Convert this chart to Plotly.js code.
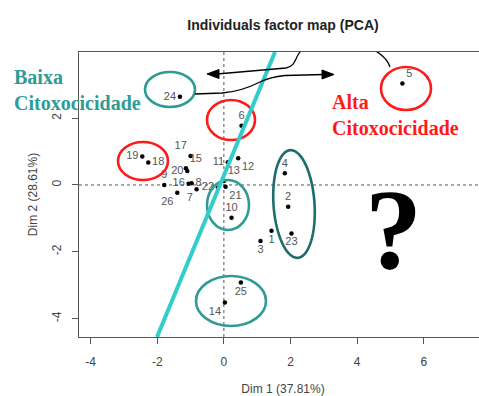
<!DOCTYPE html>
<html><head><meta charset="utf-8">
<script src="https://cdn.plot.ly/plotly-3.0.1.min.js"></script>
<style>html,body{margin:0;padding:0;overflow:hidden;background:#fff}</style>
</head><body><div id="chart" style="width:487px;height:396px"></div>
<script>
// ---- data (individuals, PCA coordinates) ----
const individuals = ['1','2','3','4','5','6','7','8','9','10','11','12','13','14','15','16','17','18','19','20','21','22','23','24','25','26'];
const dim1 = [1.43, 1.93, 1.10, 1.83, 5.36, 0.53, -0.82, -0.97, -1.79, 0.23, 0.12, 0.43, 0.00, 0.03, -1.14, -1.06, -1.00, -2.27, -2.45, -1.10, 0.05, -0.18, 2.03, -1.32, 0.51, -1.40];
const dim2 = [-1.37, -0.65, -1.68, 0.35, 3.04, 1.77, -0.13, 0.05, 0.00, -0.98, 0.68, 0.80, 0.12, -3.52, 0.50, 0.04, 0.87, 0.67, 0.85, 0.42, -0.05, -0.08, -1.45, 2.64, -2.92, -0.23];
const xTicks = [-4, -2, 0, 2, 4, 6];
const yTicks = [-4, -2, 0, 2];
const xTitle = 'Dim 1 (37.81%)';
const yTitle = 'Dim 2 (28.61%)';
const chartTitle = 'Individuals factor map (PCA)';

// ---- styles ----
const labelPos = ['bottom center','top center','bottom center','top center','top right','top center','bottom left','middle right','top center','top center','middle left','bottom right','top right','bottom left','top right','middle left','top left','middle right','middle left','middle left','bottom right','middle left','bottom center','middle left','bottom center','bottom left'];

const XR = [-4.35, 7.9], YR = [-4.55, 3.98];
const L = 79, T = 52, W = 408, H = 285;
const X = px => XR[0] + (px - L) / W * (XR[1] - XR[0]);
const Y = py => YR[1] - (py - T) / H * (YR[1] - YR[0]);
const PX = px => (px - L) / W;
const PY = py => (T + H - py) / H;
const pt = (a, b) => X(a).toFixed(3) + ',' + Y(b).toFixed(3);

const teal = '#2E9C95', darkTeal = '#1B6E6C', red = '#FF1A1A', cyan = '#33CCCC';

function ell(cx, cy, rx, ry, color) {
  return {type:'circle', xref:'x', yref:'y', x0:X(cx-rx), x1:X(cx+rx), y0:Y(cy+ry), y1:Y(cy-ry),
          line:{color:color, width:2.6}, layer:'above'};
}
function tiltedEll(cx, cy, rx, ry, ang, color) {
  const a = ang * Math.PI / 180; let d = '';
  for (let i = 0; i <= 72; i++) {
    const t = i / 72 * 2 * Math.PI;
    const px = cx + rx * Math.cos(t) * Math.cos(a) - ry * Math.sin(t) * Math.sin(a);
    const py = cy + rx * Math.cos(t) * Math.sin(a) + ry * Math.sin(t) * Math.cos(a);
    d += (i === 0 ? 'M' : 'L') + pt(px, py) + ' ';
  }
  return {type:'path', xref:'x', yref:'y', path:d + 'Z', line:{color:color, width:2.6}, layer:'above'};
}

const shapes = [
  {type:'line', xref:'x', yref:'paper', x0:0, x1:0, y0:0, y1:1, line:{color:'#555', width:1, dash:'3px,3px'}, layer:'below'},
  {type:'line', xref:'paper', yref:'y', x0:0, x1:1, y0:0, y1:0, line:{color:'#555', width:1, dash:'3px,3px'}, layer:'below'},
  ell(170, 89.5, 25, 17.5, teal),
  ell(406, 88.5, 25, 21.5, red),
  ell(231, 120, 24, 20, red),
  ell(143, 161, 25, 19, red),
  ell(228, 205, 21, 25, teal),
  ell(231, 301, 35, 25, teal),
  tiltedEll(294, 204, 20.5, 54, -4, darkTeal),
  {type:'line', xref:'x', yref:'y', x0:X(157), y0:Y(337), x1:X(275), y1:Y(52), line:{color:cyan, width:4}, layer:'above'},
  // connecting arrows
  {type:'path', xref:'x', yref:'y', line:{color:'#000', width:1.3}, layer:'above',
   path:'M'+pt(217,74)+' L'+pt(286,68)+' C'+pt(294,67)+' '+pt(295,60)+' '+pt(298,55)+' C'+pt(304,44)+' '+pt(318,41)+' '+pt(335,41)+' C'+pt(362,41)+' '+pt(385,52)+' '+pt(390,67)},
  {type:'path', xref:'x', yref:'y', line:{color:'#000', width:1.3}, layer:'above',
   path:'M'+pt(195,94)+' L'+pt(222,93)+' C'+pt(238,92)+' '+pt(250,87)+' '+pt(260,82)+' C'+pt(268,78)+' '+pt(275,76.5)+' '+pt(285,75.5)+' L'+pt(324,74.5)},
  {type:'path', xref:'x', yref:'y', fillcolor:'#000', line:{color:'#000', width:1}, layer:'above',
   path:'M'+pt(207,74)+' L'+pt(219,69.5)+' L'+pt(219,78.5)+' Z'},
  {type:'path', xref:'x', yref:'y', fillcolor:'#000', line:{color:'#000', width:1}, layer:'above',
   path:'M'+pt(334,74.5)+' L'+pt(322,70)+' L'+pt(322,79)+' Z'}
];

const annotations = [
  {xref:'paper', yref:'paper', x:PX(12), y:PY(90), xanchor:'left', yanchor:'middle', align:'left', showarrow:false,
   text:'<b>Baixa<br>Citoxocicidade</b>', font:{family:'Liberation Serif', size:20, color:teal}},
  {xref:'paper', yref:'paper', x:PX(330), y:PY(115), xanchor:'left', yanchor:'middle', align:'left', showarrow:false,
   text:'<b>Alta<br>Citoxocicidade</b>', font:{family:'Liberation Serif', size:20, color:red}},
  {xref:'paper', yref:'paper', x:PX(393), y:PY(230), xanchor:'center', yanchor:'middle', showarrow:false,
   text:'<b>?</b>', font:{family:'Liberation Serif', size:114, color:'#000'}}
];

const trace = {
  type:'scatter', mode:'markers+text', x:dim1, y:dim2, text:individuals,
  textposition:labelPos, cliponaxis:false,
  marker:{color:'#000', size:4.5},
  textfont:{family:'Liberation Sans', size:11, color:'#555'},
  hoverinfo:'none'
};

const axisCommon = {showgrid:false, zeroline:false, showline:true, linecolor:'#555', linewidth:1, mirror:true,
  ticks:'outside', ticklen:6, tickcolor:'#555', tickfont:{family:'Liberation Sans', size:12, color:'#444'}};

const layout = {
  width:487, height:396,
  margin:{l:L, r:487-L-W, t:T, b:396-T-H, pad:0},
  paper_bgcolor:'#fff', plot_bgcolor:'#fff', showlegend:false,
  title:{text:'<b>'+chartTitle+'</b>', xref:'paper', x:0.5, xanchor:'center', yref:'container', y:1-25/396, yanchor:'middle',
         font:{family:'Liberation Sans', size:14, color:'#222'}},
  xaxis:Object.assign({}, axisCommon, {range:XR, tickvals:xTicks, ticktext:xTicks.map(String), ticklabelstandoff:8,
         title:{text:xTitle, standoff:16, font:{family:'Liberation Sans', size:12, color:'#444'}}}),
  yaxis:Object.assign({}, axisCommon, {range:YR, tickvals:yTicks, ticktext:yTicks.map(String), tickangle:-90, ticklabelstandoff:6,
         title:{text:yTitle, standoff:10, font:{family:'Liberation Sans', size:12, color:'#444'}}}),
  shapes:shapes, annotations:annotations
};

Plotly.newPlot('chart', [trace], layout, {staticPlot:true, displayModeBar:false});
</script></body></html>
